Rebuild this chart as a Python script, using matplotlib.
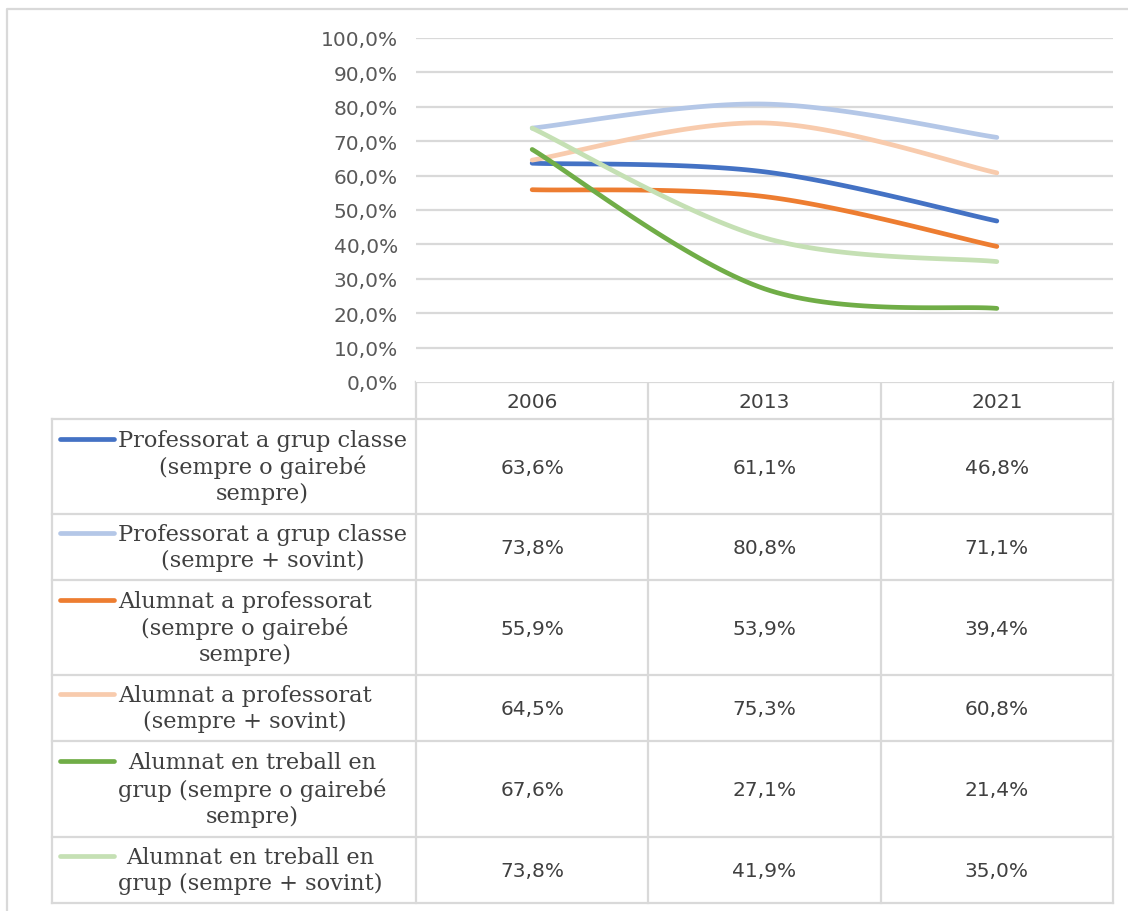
"""Excel-style smoothed line chart with a data table underneath."""
import matplotlib
matplotlib.use("Agg")
import matplotlib.pyplot as plt
import numpy as np

W, H = 1128, 912

years = ["2006", "2013", "2021"]
labels = [
    "Professorat a grup classe\n(sempre o gairebé\nsempre)",
    "Professorat a grup classe\n(sempre + sovint)",
    "Alumnat a professorat\n(sempre o gairebé\nsempre)",
    "Alumnat a professorat\n(sempre + sovint)",
    "Alumnat en treball en\ngrup (sempre o gairebé\nsempre)",
    "Alumnat en treball en\ngrup (sempre + sovint)",
]
values = [
    [63.6, 61.1, 46.8],
    [73.8, 80.8, 71.1],
    [55.9, 53.9, 39.4],
    [64.5, 75.3, 60.8],
    [67.6, 27.1, 21.4],
    [73.8, 41.9, 35.0],
]
colors = ["#4472C4", "#B4C7E7", "#ED7D31", "#F8CBAD", "#70AD47", "#C5E0B4"]
yticks = np.arange(0, 101, 10)

GRID = "#D9D9D9"
SANS = ["DejaVu Sans"]
SERIF = ["DejaVu Serif"]


def smooth(xs, ys, n=40):
    """Catmull-Rom through the points, converted to cubic Bezier (Excel-like)."""
    p = np.column_stack([xs, ys]).astype(float)
    p = np.vstack([p[0], p, p[-1]])
    out = []
    for i in range(1, len(p) - 2):
        p0, p1, p2, p3 = p[i - 1], p[i], p[i + 1], p[i + 2]
        c1 = p1 + (p2 - p0) / 6
        c2 = p2 - (p3 - p1) / 6
        t = np.linspace(0, 1, n)[:, None]
        seg = ((1 - t) ** 3) * p1 + 3 * ((1 - t) ** 2) * t * c1 + 3 * (1 - t) * t ** 2 * c2 + t ** 3 * p2
        out.append(seg if i == 1 else seg[1:])
    out = np.vstack(out)
    return out[:, 0], out[:, 1]


fig = plt.figure(figsize=(W / 100, H / 100), dpi=100)

# pixel layout
px_left, px_right = 416, 1113
px_top, px_bottom = 39, 383
label_left = 52
row_edges = [420, 515, 581, 676, 742, 838, 904]

ax = fig.add_axes([px_left / W, 1 - px_bottom / H, (px_right - px_left) / W, (px_bottom - px_top) / H])
ax.set_xlim(-0.5, len(years) - 0.5)
ax.set_ylim(0, 100)
for v in yticks[1:]:
    ax.axhline(v, color=GRID, lw=1.6, zorder=0)
ax.set_yticks(yticks)
ax.set_yticklabels([f"{v:.1f}%".replace(".", ",") for v in yticks])
ax.tick_params(axis="y", length=0, pad=13, labelsize=14.5, labelcolor="#595959")
for lbl in ax.get_yticklabels():
    lbl.set_family(SANS)
ax.set_xticks([])
for s in ax.spines.values():
    s.set_visible(False)

xs = np.arange(len(years))
for vals, col in zip(values, colors):
    sx, sy = smooth(xs, vals)
    ax.plot(sx, sy, color=col, lw=3.4, solid_capstyle="round", zorder=3)

# overlay in pixel coordinates for the table
tb = fig.add_axes([0, 0, 1, 1], zorder=-1)
tb.set_xlim(0, W)
tb.set_ylim(H, 0)
tb.axis("off")

# outer chart border (only left/top visible in crop)
tb.plot([7, 7, W + 10], [H + 10, 10, 10], color=GRID, lw=1.6)

col_edges = np.linspace(px_left, px_right, len(years) + 1)
# header row
tb.plot([px_left, px_right], [px_bottom, px_bottom], color=GRID, lw=1.6)
for x in col_edges:
    tb.plot([x, x], [px_bottom, row_edges[-1]], color=GRID, lw=1.6)
tb.plot([label_left, label_left], [row_edges[0], row_edges[-1]], color=GRID, lw=1.6)
for y in row_edges:
    tb.plot([label_left, px_right], [y, y], color=GRID, lw=1.6)

centers = (col_edges[:-1] + col_edges[1:]) / 2
for cx, yr in zip(centers, years):
    tb.text(cx, (px_bottom + row_edges[0]) / 2 + 1, yr, ha="center", va="center",
            fontsize=14.5, color="#404040", family=SANS)

for i, (lab, vals, col) in enumerate(zip(labels, values, colors)):
    y0, y1 = row_edges[i], row_edges[i + 1]
    nlines = lab.count("\n") + 1
    line_h = 28
    first = (y0 + y1) / 2 - (nlines - 1) * line_h / 2
    tb.plot([60, 114], [first, first], color=col, lw=3.4, solid_capstyle="round")
    tb.text(118, (y0 + y1) / 2, lab, ha="left", va="center", multialignment="center",
            fontsize=16.2, color="#404040", family=SERIF, linespacing=1.22)
    for cx, v in zip(centers, vals):
        tb.text(cx, (y0 + y1) / 2 + 1, f"{v:.1f}%".replace(".", ","), ha="center", va="center",
                fontsize=14.5, color="#404040", family=SANS)

fig.savefig("out.png", dpi=100)
